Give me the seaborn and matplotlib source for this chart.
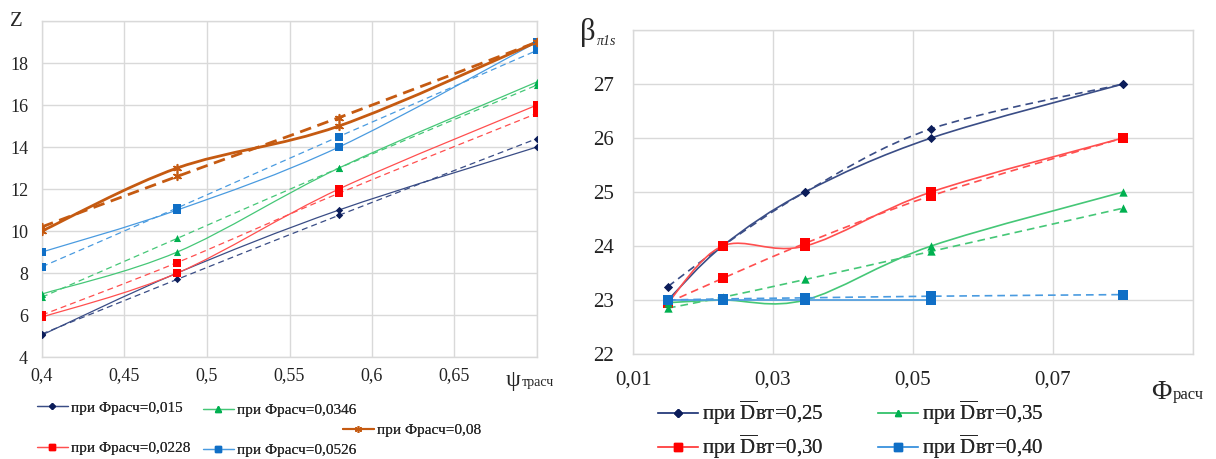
import numpy as np
import matplotlib
matplotlib.use("Agg")
import matplotlib.pyplot as plt
import seaborn as sns
from matplotlib.path import Path
from matplotlib.patches import PathPatch
from matplotlib.lines import Line2D
from matplotlib.ticker import FuncFormatter

# ---- left chart: Z vs psi ----
psi = [0.4, 0.482, 0.58, 0.7]
z_015 = [5.05, 8.0, 11.0, 14.0]
z_015_d = [5.1, 7.7, 10.75, 14.4]
z_0228 = [5.9, 8.0, 12.0, 16.0]
z_0228_d = [6.0, 8.5, 11.8, 15.6]
z_0346 = [7.0, 9.0, 13.0, 17.1]
z_0346_d = [6.85, 9.65, 13.0, 16.95]
z_0526 = [9.0, 11.0, 14.0, 19.0]
z_0526_d = [8.3, 11.1, 14.5, 18.6]
z_08 = [10.0, 13.0, 15.0, 19.0]
z_08_d = [10.2, 12.6, 15.4, 19.0]
left_labels = ["при Фрасч=0,015", "при Фрасч=0,0228", "при Фрасч=0,0346",
               "при Фрасч=0,0526", "при Фрасч=0,08"]

# ---- right chart: beta vs Phi ----
phi = [0.015, 0.0228, 0.0346, 0.0526, 0.08]
b_25 = [23.0, 24.0, 25.0, 26.0, 27.0]
b_25_d = [23.25, 24.0, 25.0, 26.17, 27.0]
b_30 = [22.95, 24.0, 24.0, 25.0, 26.0]
b_30_d = [22.95, 23.4, 24.05, 24.93, 26.0]
b_35 = [22.95, 23.0, 23.0, 24.0, 25.0]
b_35_d = [22.85, 23.05, 23.38, 23.9, 24.7]
phi_40 = [0.015, 0.0228, 0.0346, 0.0526]
b_40 = [23.0, 23.0, 23.0, 23.0]
b_40_d = [23.0, 23.02, 23.04, 23.07, 23.1]
right_labels = ["0,25", "0,30", "0,35", "0,40"]

NAVY, NAVY_M = "#3a4d86", "#0c1d5a"
RED, RED_M = "#ff4f4f", "#ff0000"
GREEN, GREEN_M = "#45c777", "#00b050"
BLUE, BLUE_M = "#4a9be0", "#106fc6"
ORANGE = "#c55a11"
STAR = (6, 2, 0)

sns.set_theme(style="whitegrid")
plt.rcParams["font.family"] = ["Liberation Serif", "DejaVu Serif"]
plt.rcParams["mathtext.fontset"] = "custom"
plt.rcParams["mathtext.rm"] = "Liberation Serif"


def smooth_path(x, y):
    # Excel-like smoothed line: Catmull-Rom segments as cubic Bezier curves
    pts = np.column_stack([x, y]).astype(float)
    n = len(pts)
    verts, codes = [pts[0]], [Path.MOVETO]
    for i in range(n - 1):
        p0, p1 = pts[max(i - 1, 0)], pts[i]
        p2, p3 = pts[i + 1], pts[min(i + 2, n - 1)]
        verts += [p1 + (p2 - p0) / 6, p2 - (p3 - p1) / 6, p2]
        codes += [Path.CURVE4] * 3
    return Path(verts, codes)


def draw(ax, x, y, color, mcolor, marker, s, lw, ls="-"):
    ax.add_patch(PathPatch(smooth_path(x, y), fill=False, edgecolor=color,
                           lw=lw, linestyle=ls, zorder=2, capstyle="butt"))
    if marker == STAR:
        sns.scatterplot(x=x, y=y, marker=marker, s=s, color=mcolor,
                        linewidth=1.2, ax=ax, zorder=3, legend=False)
    else:
        sns.scatterplot(x=x, y=y, marker=marker, s=s, color=mcolor,
                        edgecolor=mcolor, linewidth=0, ax=ax, zorder=3, legend=False)


def comma(fmt, hide):
    def f(v, pos):
        if abs(v - hide) < 1e-9:
            return ""
        return fmt.format(v).replace(".", ",")
    return FuncFormatter(f)


fig = plt.figure(figsize=(12.16, 4.59), dpi=100)
axL = fig.add_axes([42 / 1216, 1 - 357 / 459, 495 / 1216, 336 / 459])
axR = fig.add_axes([633 / 1216, 1 - 354 / 459, 560 / 1216, 324 / 459])

# left chart
thin, thick = 0.9, 2.0
dl = (0, (4.8, 3.2))
draw(axL, psi, z_015, NAVY, NAVY_M, "D", 14, thin)
draw(axL, psi, z_015_d, NAVY, NAVY_M, "D", 14, thin, dl)
draw(axL, psi, z_0228, RED, RED_M, "s", 36, thin)
draw(axL, psi, z_0228_d, RED, RED_M, "s", 36, thin, dl)
draw(axL, psi, z_0346, GREEN, GREEN_M, "^", 26, thin)
draw(axL, psi, z_0346_d, GREEN, GREEN_M, "^", 26, thin, dl)
draw(axL, psi, z_0526, BLUE, BLUE_M, "s", 36, thin)
draw(axL, psi, z_0526_d, BLUE, BLUE_M, "s", 36, thin, dl)
draw(axL, psi, z_08, ORANGE, ORANGE, STAR, 30, thick)
draw(axL, psi, z_08_d, ORANGE, ORANGE, STAR, 30, thick, (0, (4.2, 2.4)))

axL.set_xlim(0.4, 0.7)
axL.set_ylim(4, 20)
axL.set_xticks(np.arange(0.4, 0.701, 0.05))
axL.set_yticks(np.arange(4, 21, 2))
axL.xaxis.set_major_formatter(comma("{:g}", 0.7))
axL.yaxis.set_major_formatter(comma("{:g}", 20))
axL.tick_params(axis="x", labelsize=13, pad=7)
axL.tick_params(axis="y", labelsize=13, pad=10)

# right chart
rl = 1.2
dr = (0, (4.6, 3.0))
draw(axR, phi, b_25, NAVY, NAVY_M, "D", 22, rl)
draw(axR, phi, b_25_d, NAVY, NAVY_M, "D", 22, rl, dr)
draw(axR, phi, b_30, RED, RED_M, "s", 55, rl)
draw(axR, phi, b_30_d, RED, RED_M, "s", 55, rl, dr)
draw(axR, phi, b_35, GREEN, GREEN_M, "^", 36, rl)
draw(axR, phi, b_35_d, GREEN, GREEN_M, "^", 36, rl, dr)
draw(axR, phi_40, b_40, BLUE, BLUE_M, "s", 55, rl)
draw(axR, phi, b_40_d, BLUE, BLUE_M, "s", 55, rl, dr)

axR.set_xlim(0.01, 0.09)
axR.set_ylim(22, 28)
axR.set_xticks([0.01, 0.03, 0.05, 0.07, 0.09])
axR.set_yticks(range(22, 29))
axR.xaxis.set_major_formatter(comma("{:.2f}", 0.09))
axR.yaxis.set_major_formatter(comma("{:g}", 28))
axR.tick_params(axis="x", labelsize=15, pad=12)
axR.tick_params(axis="y", labelsize=15, pad=14)

for ax in (axL, axR):
    ax.grid(True, color="#d9d9d9", lw=1)
    for sp in ax.spines.values():
        sp.set_color("#d9d9d9")
        sp.set_linewidth(1)
    ax.set_xlabel("")
    ax.set_ylabel("")
    ax.tick_params(colors="#222222", length=0)

# axis titles: main symbol, then subscript placed right after its measured extent
renderer = fig.canvas.get_renderer()


def symbol(x, y, main, sub, size, subsize, sub_drop=0, **subkw):
    t = fig.text(x / 1216, 1 - y / 459, main, fontsize=size, ha="left", va="baseline")
    bb = t.get_window_extent(renderer)
    fig.text((bb.x1 + 1) / 1216, 1 - (y + sub_drop) / 459, sub, fontsize=subsize,
             ha="left", va="baseline", **subkw)


fig.text(10 / 1216, 1 - 21 / 459, "Z", fontsize=15, ha="left", va="center")
symbol(506, 386, "ψ", "трасч", 17, 10)
symbol(580, 40, "β", "π1s", 22, 10, sub_drop=5, style="italic")
symbol(1151, 399, "Φ", "расч", 20, 12)


def leg(handle, label, x, y, size, hl):
    lg = fig.legend([handle], [label], loc="center left",
                    bbox_to_anchor=(x / 1216, 1 - y / 459), frameon=False,
                    fontsize=size, handlelength=hl, handletextpad=0.2,
                    borderpad=0, borderaxespad=0)
    fig.add_artist(lg)


def h(color, mcolor, marker, ms, lw=0.9):
    return Line2D([], [], color=color, lw=lw, marker=marker, ms=ms,
                  markerfacecolor=mcolor, markeredgecolor=mcolor, mew=1)


leg(h(NAVY, NAVY_M, "D", 3), left_labels[0], 37, 408, 11, 2.0)
leg(h(GREEN, GREEN_M, "^", 4), left_labels[2], 203, 410, 11, 2.0)
leg(h(ORANGE, ORANGE, STAR, 5, 1.5), left_labels[4], 343, 430, 11, 2.0)
leg(h(RED, RED_M, "s", 4.5), left_labels[1], 37, 448, 11, 2.0)
leg(h(BLUE, BLUE_M, "s", 4.5), left_labels[3], 203, 450, 11, 2.0)

rh = [h(NAVY, NAVY_M, "D", 4, 1.3), h(RED, RED_M, "s", 5.5, 1.3),
      h(GREEN, GREEN_M, "^", 5, 1.3), h(BLUE, BLUE_M, "s", 5.5, 1.3)]
rpos = [(658, 413), (658, 447), (878, 413), (878, 447)]
for hd, lab, (x, y) in zip(rh, right_labels, rpos):
    leg(hd, "при $\\overline{\\mathrm{D}}$вт=" + lab, x, y, 15, 1.9)

fig.savefig("out.png", dpi=100)
